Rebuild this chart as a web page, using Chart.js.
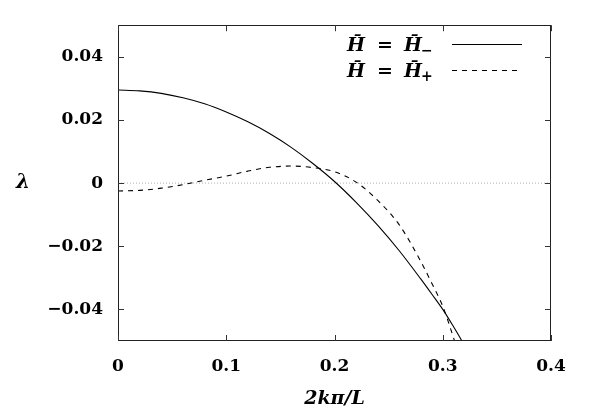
<!DOCTYPE html>
<html>
<head>
<meta charset="utf-8">
<script src="https://cdn.jsdelivr.net/npm/chart.js@4"></script>
<style>
  html, body { margin: 0; padding: 0; background: #fff; }
  #wrap { width: 594px; height: 417px; }
</style>
</head>
<body>
<div id="wrap"><canvas id="c" width="594" height="417"></canvas></div>
<script>
// wavenumber 2kπ/L
const kValues = [0, 0.02, 0.04, 0.06, 0.08, 0.10, 0.12, 0.14, 0.16, 0.18, 0.20, 0.22, 0.24, 0.26, 0.28, 0.29, 0.30, 0.31, 0.32];
// growth rate λ for H̄ = H̄−  (solid)
const lambdaMinus = [0.0295, 0.0292, 0.0284, 0.0270, 0.0251, 0.0225, 0.0194, 0.0157, 0.0113, 0.0062, 0.0005, -0.0061, -0.0134, -0.0215, -0.0305, -0.0352, -0.0400, -0.0455, -0.0513];
// growth rate λ for H̄ = H̄+  (dashed)
const lambdaPlus = [-0.0025, -0.0023, -0.0016, -0.0005, 0.0009, 0.0022, 0.0038, 0.0050, 0.0054, 0.0049, 0.0036, 0.0003, -0.0055, -0.0133, -0.0250, -0.0318, -0.0390, -0.0490, -0.0600];
const zeroLine = [0, 0.4];
const xTicks = [0, 0.1, 0.2, 0.3, 0.4];
const yTicks = [-0.04, -0.02, 0, 0.02, 0.04];
const legendSubs = ['−', '+'];
const xTitle = '2kπ/L';
const yTitle = 'λ';

const SERIF = '"DejaVu Serif", "Liberation Serif", serif';

function fmt(v) {
  if (Math.abs(v) < 1e-12) return '0';
  const s = Math.abs(v).toFixed(2);
  return (v < 0 ? '\u2212' : '') + s;
}

const framePlugin = {
  id: 'frame',
  afterDraw(chart) {
    const ctx = chart.ctx;
    const a = chart.chartArea;
    const xs = chart.scales.x, ys = chart.scales.y;
    ctx.save();
    // frame
    ctx.strokeStyle = '#222';
    ctx.lineWidth = 1;
    ctx.strokeRect(Math.round(a.left) + 0.5, Math.round(a.top) + 0.5, Math.round(a.right - a.left) - 1, Math.round(a.bottom - a.top) - 1);
    // inward ticks
    const tl = 6;
    ctx.strokeStyle = '#333';
    ctx.beginPath();
    xTicks.forEach(v => {
      const px = Math.round(xs.getPixelForValue(v)) + 0.5;
      ctx.moveTo(px, a.bottom); ctx.lineTo(px, a.bottom - tl);
      ctx.moveTo(px, a.top); ctx.lineTo(px, a.top + tl);
    });
    yTicks.forEach(v => {
      const py = Math.round(ys.getPixelForValue(v)) + 0.5;
      ctx.moveTo(a.left, py); ctx.lineTo(a.left + tl, py);
      ctx.moveTo(a.right, py); ctx.lineTo(a.right - tl, py);
    });
    ctx.stroke();

    // axis titles
    ctx.fillStyle = '#000';
    ctx.textAlign = 'center';
    ctx.textBaseline = 'middle';
    ctx.font = 'italic bold 20px ' + SERIF;
    ctx.fillText(yTitle, 23, ys.getPixelForValue(0));
    ctx.font = 'italic bold 19px ' + SERIF;
    ctx.fillText(xTitle, (a.left + a.right) / 2, 399);

    // legend
    const rows = [
      { y: 44, dash: [] },
      { y: 70, dash: [5, 5] }
    ];
    rows.forEach((r, i) => {
      const base = r.y + 7;
      ctx.textBaseline = 'alphabetic';
      ctx.font = 'italic bold 19px ' + SERIF;
      ctx.textAlign = 'left';
      ctx.fillText('H̄', 347, base);
      ctx.fillText('H̄', 404, base);
      ctx.font = 'bold 19px ' + SERIF;
      ctx.textAlign = 'center';
      ctx.fillText('=', 385, base);
      ctx.font = 'bold 14px ' + SERIF;
      ctx.textAlign = 'left';
      ctx.fillText(legendSubs[i], 421, base + 4);
      ctx.beginPath();
      ctx.setLineDash(r.dash);
      ctx.strokeStyle = '#000';
      ctx.moveTo(452, r.y + 0.5); ctx.lineTo(522, r.y + 0.5);
      ctx.stroke();
      ctx.setLineDash([]);
    });
    ctx.restore();
  }
};

new Chart(document.getElementById('c'), {
  type: 'scatter',
  data: {
    datasets: [
      {
        label: 'H- ',
        data: kValues.map((k, i) => ({ x: k, y: lambdaMinus[i] })),
        showLine: true, borderColor: '#000', borderWidth: 1.1, pointRadius: 0,
        cubicInterpolationMode: 'monotone', fill: false
      },
      {
        label: 'H+',
        data: kValues.map((k, i) => ({ x: k, y: lambdaPlus[i] })),
        showLine: true, borderColor: '#000', borderWidth: 1.1, borderDash: [5, 5], pointRadius: 0,
        cubicInterpolationMode: 'monotone', fill: false
      },
      {
        label: 'zero',
        data: zeroLine.map(k => ({ x: k, y: 0 })),
        showLine: true, borderColor: '#b0b0b0', borderWidth: 1, borderDash: [1, 2], pointRadius: 0, fill: false
      }
    ]
  },
  options: {
    responsive: false,
    animation: false,
    events: [],
    layout: { padding: { top: 24, right: 43, left: 0, bottom: 0 } },
    plugins: { legend: { display: false }, tooltip: { enabled: false } },
    scales: {
      x: {
        type: 'linear', min: 0, max: 0.4,
        afterBuildTicks: s => { s.ticks = xTicks.map(v => ({ value: v })); },
        afterFit: s => { s.height = 76; },
        grid: { display: false, drawTicks: false },
        border: { display: false },
        ticks: { callback: v => (v === 0 ? '0' : fmt(v).replace(/^0\.(\d)0$/, '0.$1')), color: '#000', padding: 15, maxRotation: 0,
                 font: { family: SERIF, size: 17, weight: 'bold' } }
      },
      y: {
        type: 'linear', min: -0.05, max: 0.05,
        afterBuildTicks: s => { s.ticks = yTicks.map(v => ({ value: v })); },
        afterFit: s => { s.width = 118; },
        grid: { display: false, drawTicks: false },
        border: { display: false },
        ticks: { callback: v => fmt(v), color: '#000', padding: 15,
                 font: { family: SERIF, size: 17, weight: 'bold' } }
      }
    }
  },
  plugins: [framePlugin]
});
</script>
</body>
</html>
